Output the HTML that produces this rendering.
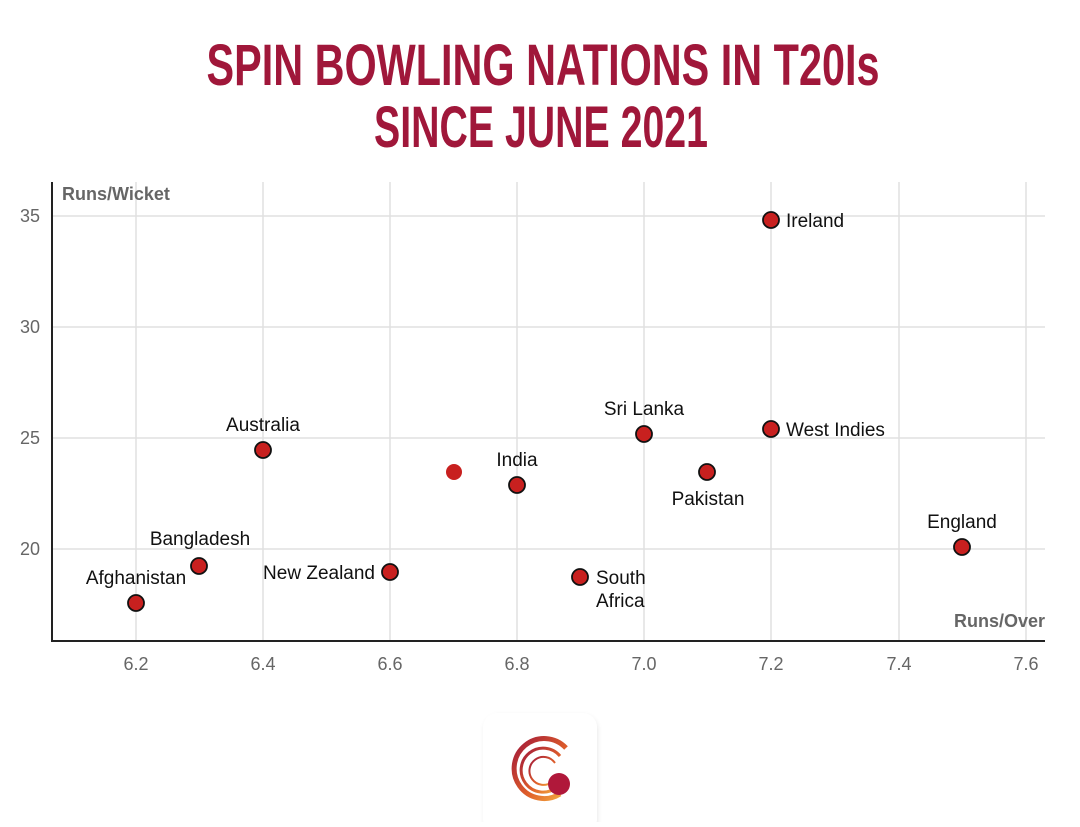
<!DOCTYPE html>
<html><head><meta charset="utf-8"><style>
html,body{margin:0;padding:0;background:#fff;}
</style></head><body>
<svg width="1080" height="822" xmlns="http://www.w3.org/2000/svg" font-family="Liberation Sans, sans-serif">
<defs><filter id="sh" x="-20%" y="-20%" width="140%" height="140%"><feGaussianBlur stdDeviation="3"/></filter>
<linearGradient id="g1" x1="0" y1="0" x2="1" y2="1"><stop offset="0" stop-color="#a0173a"/><stop offset="0.6" stop-color="#e0602a"/><stop offset="1" stop-color="#f4b040"/></linearGradient></defs>
<text x="543" y="85" text-anchor="middle" font-weight="bold" font-size="58" fill="#a0173a" textLength="673" lengthAdjust="spacingAndGlyphs">SPIN BOWLING NATIONS IN T20Is</text>
<text x="541" y="147" text-anchor="middle" font-weight="bold" font-size="58" fill="#a0173a" textLength="334" lengthAdjust="spacingAndGlyphs">SINCE JUNE 2021</text>
<g stroke="#e0e0e0" stroke-width="1.5">
<line x1="136" y1="182" x2="136" y2="641"/><line x1="263" y1="182" x2="263" y2="641"/><line x1="390" y1="182" x2="390" y2="641"/><line x1="517" y1="182" x2="517" y2="641"/><line x1="644" y1="182" x2="644" y2="641"/><line x1="771" y1="182" x2="771" y2="641"/><line x1="899" y1="182" x2="899" y2="641"/><line x1="1026" y1="182" x2="1026" y2="641"/>
<line x1="52" y1="216" x2="1045" y2="216"/><line x1="52" y1="327" x2="1045" y2="327"/><line x1="52" y1="438" x2="1045" y2="438"/><line x1="52" y1="549" x2="1045" y2="549"/>
</g>
<line x1="52" y1="182" x2="52" y2="642" stroke="#222" stroke-width="2"/>
<line x1="51" y1="641" x2="1045" y2="641" stroke="#222" stroke-width="2"/>
<g fill="#666" font-size="18">
<text x="40" y="222" text-anchor="end">35</text><text x="40" y="333" text-anchor="end">30</text><text x="40" y="444" text-anchor="end">25</text><text x="40" y="555" text-anchor="end">20</text>
<g text-anchor="middle"><text x="136" y="670">6.2</text><text x="263" y="670">6.4</text><text x="390" y="670">6.6</text><text x="517" y="670">6.8</text><text x="644" y="670">7.0</text><text x="771" y="670">7.2</text><text x="899" y="670">7.4</text><text x="1026" y="670">7.6</text></g>
<text x="62" y="200" font-weight="bold" font-size="18">Runs/Wicket</text>
<text x="1045" y="627" font-weight="bold" font-size="18" text-anchor="end">Runs/Over</text>
</g>
<g fill="#c8201f" stroke="#111" stroke-width="1.8">
<circle cx="136" cy="603" r="8"/><circle cx="199" cy="566" r="8"/><circle cx="263" cy="450" r="8"/><circle cx="390" cy="572" r="8"/><circle cx="517" cy="485" r="8"/><circle cx="580" cy="577" r="8"/><circle cx="644" cy="434" r="8"/><circle cx="707" cy="472" r="8"/><circle cx="771" cy="220" r="8"/><circle cx="771" cy="429" r="8"/><circle cx="962" cy="547" r="8"/>
</g>
<circle cx="454" cy="472" r="8" fill="#c8201f"/>
<g fill="#111" font-size="19">
<text x="136" y="584" text-anchor="middle">Afghanistan</text>
<text x="200" y="545" text-anchor="middle">Bangladesh</text>
<text x="263" y="431" text-anchor="middle">Australia</text>
<text x="375" y="579" text-anchor="end">New Zealand</text>
<text x="517" y="466" text-anchor="middle">India</text>
<text x="596" y="584">South</text><text x="596" y="607">Africa</text>
<text x="644" y="415" text-anchor="middle">Sri Lanka</text>
<text x="708" y="505" text-anchor="middle">Pakistan</text>
<text x="786" y="227">Ireland</text>
<text x="786" y="436">West Indies</text>
<text x="962" y="528" text-anchor="middle">England</text>
</g>
<rect x="485" y="716" width="112" height="120" rx="14" fill="#000" opacity="0.12" filter="url(#sh)"/>
<rect x="483" y="713" width="114" height="120" rx="14" fill="#fff"/>
<g fill="none" stroke="url(#g1)">
<path d="M566 748 A30 30 0 1 0 560 794" stroke-width="5"/>
<path d="M560 756 A22 22 0 1 0 556 788" stroke-width="3"/>
<path d="M555 763 A14 14 0 1 0 552 782" stroke-width="2"/>
</g>
<circle cx="559" cy="784" r="11" fill="#b0183a"/>
</svg>
</body></html>
